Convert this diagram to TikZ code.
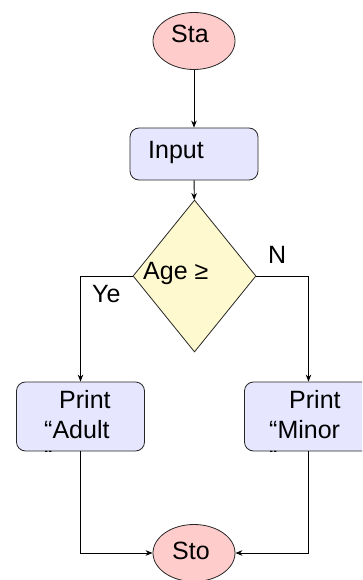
\documentclass[tikz,border=0pt]{standalone}
\usepackage{fontspec}
\setmainfont{Liberation Sans}
\usetikzlibrary{shapes.geometric,arrows.meta}

\definecolor{termfill}{HTML}{FFCCCC}
\definecolor{procfill}{HTML}{E6E6FF}
\definecolor{decfill}{HTML}{FFF9CF}

\tikzset{
	term/.style={draw=black!85,line width=0.8pt,ellipse,fill=termfill,minimum width=82pt,minimum height=57pt,inner sep=0},
	proc/.style={draw=black!85,line width=0.8pt,rounded corners=9pt,fill=procfill,minimum width=128pt,minimum height=69pt,inner sep=0},
	dec/.style={draw=black!85,line width=0.8pt,diamond,fill=decfill,minimum width=123pt,minimum height=152pt,inner sep=0},
	txt/.style={inner sep=0,font=\fontsize{25}{30}\selectfont},
	flow/.style={draw=black,line width=0.8pt,-{Stealth[length=7pt,width=5.5pt]}}
}

\begin{document}
\begin{tikzpicture}[x=1pt,y=-1pt]
	\clip (0,0) rectangle (362,580);
	% shapes
	\node[term] (1) at (194,41) {};
	\node[proc,minimum height=52pt] (2) at (194,154) {};
	\node[dec] (3) at (194.5,276) {};
	\node[proc] (4) at (80.5,416.5) {};
	\node[proc] (5) at (308.5,416.5) {};
	\node[term] (6) at (194,553) {};
	% texts
	\node[txt,anchor=base west] (1t) at (171,43) {Sta};
	\node[txt,anchor=base west] (2t) at (148,159) {Input};
	\node[txt,anchor=base west] (3t) at (143,279) {Age ≥};
	\begin{scope}
		\clip[rounded corners=9pt] (4.south west) rectangle (4.north east);
		\node[txt,anchor=north west,align=left] (4t) at (44,390) {\hspace*{15pt}Print\\“Adult\\”};
	\end{scope}
	\begin{scope}
		\clip[rounded corners=9pt] (5.south west) rectangle (5.north east);
		\node[txt,anchor=north west,align=left] (5t) at (269,390) {\hspace*{20pt}Print\\“Minor\\”};
	\end{scope}
	\node[txt,anchor=base west] (6t) at (172,559) {Sto};
	\node[txt,anchor=base west] (yes) at (92,302) {Ye};
	\node[txt,anchor=base west] (no) at (268,263) {N};
	% connectors
	\draw[flow] (1) -- (2);
	\draw[flow] (2) -- (3);
	\draw[flow] (3.west) -| (4.north);
	\draw[flow] (3.east) -| (5.north);
	\draw[flow] (4.south) |- (6.west);
	\draw[flow] (5.south) |- (6.east);
\end{tikzpicture}
\end{document}
